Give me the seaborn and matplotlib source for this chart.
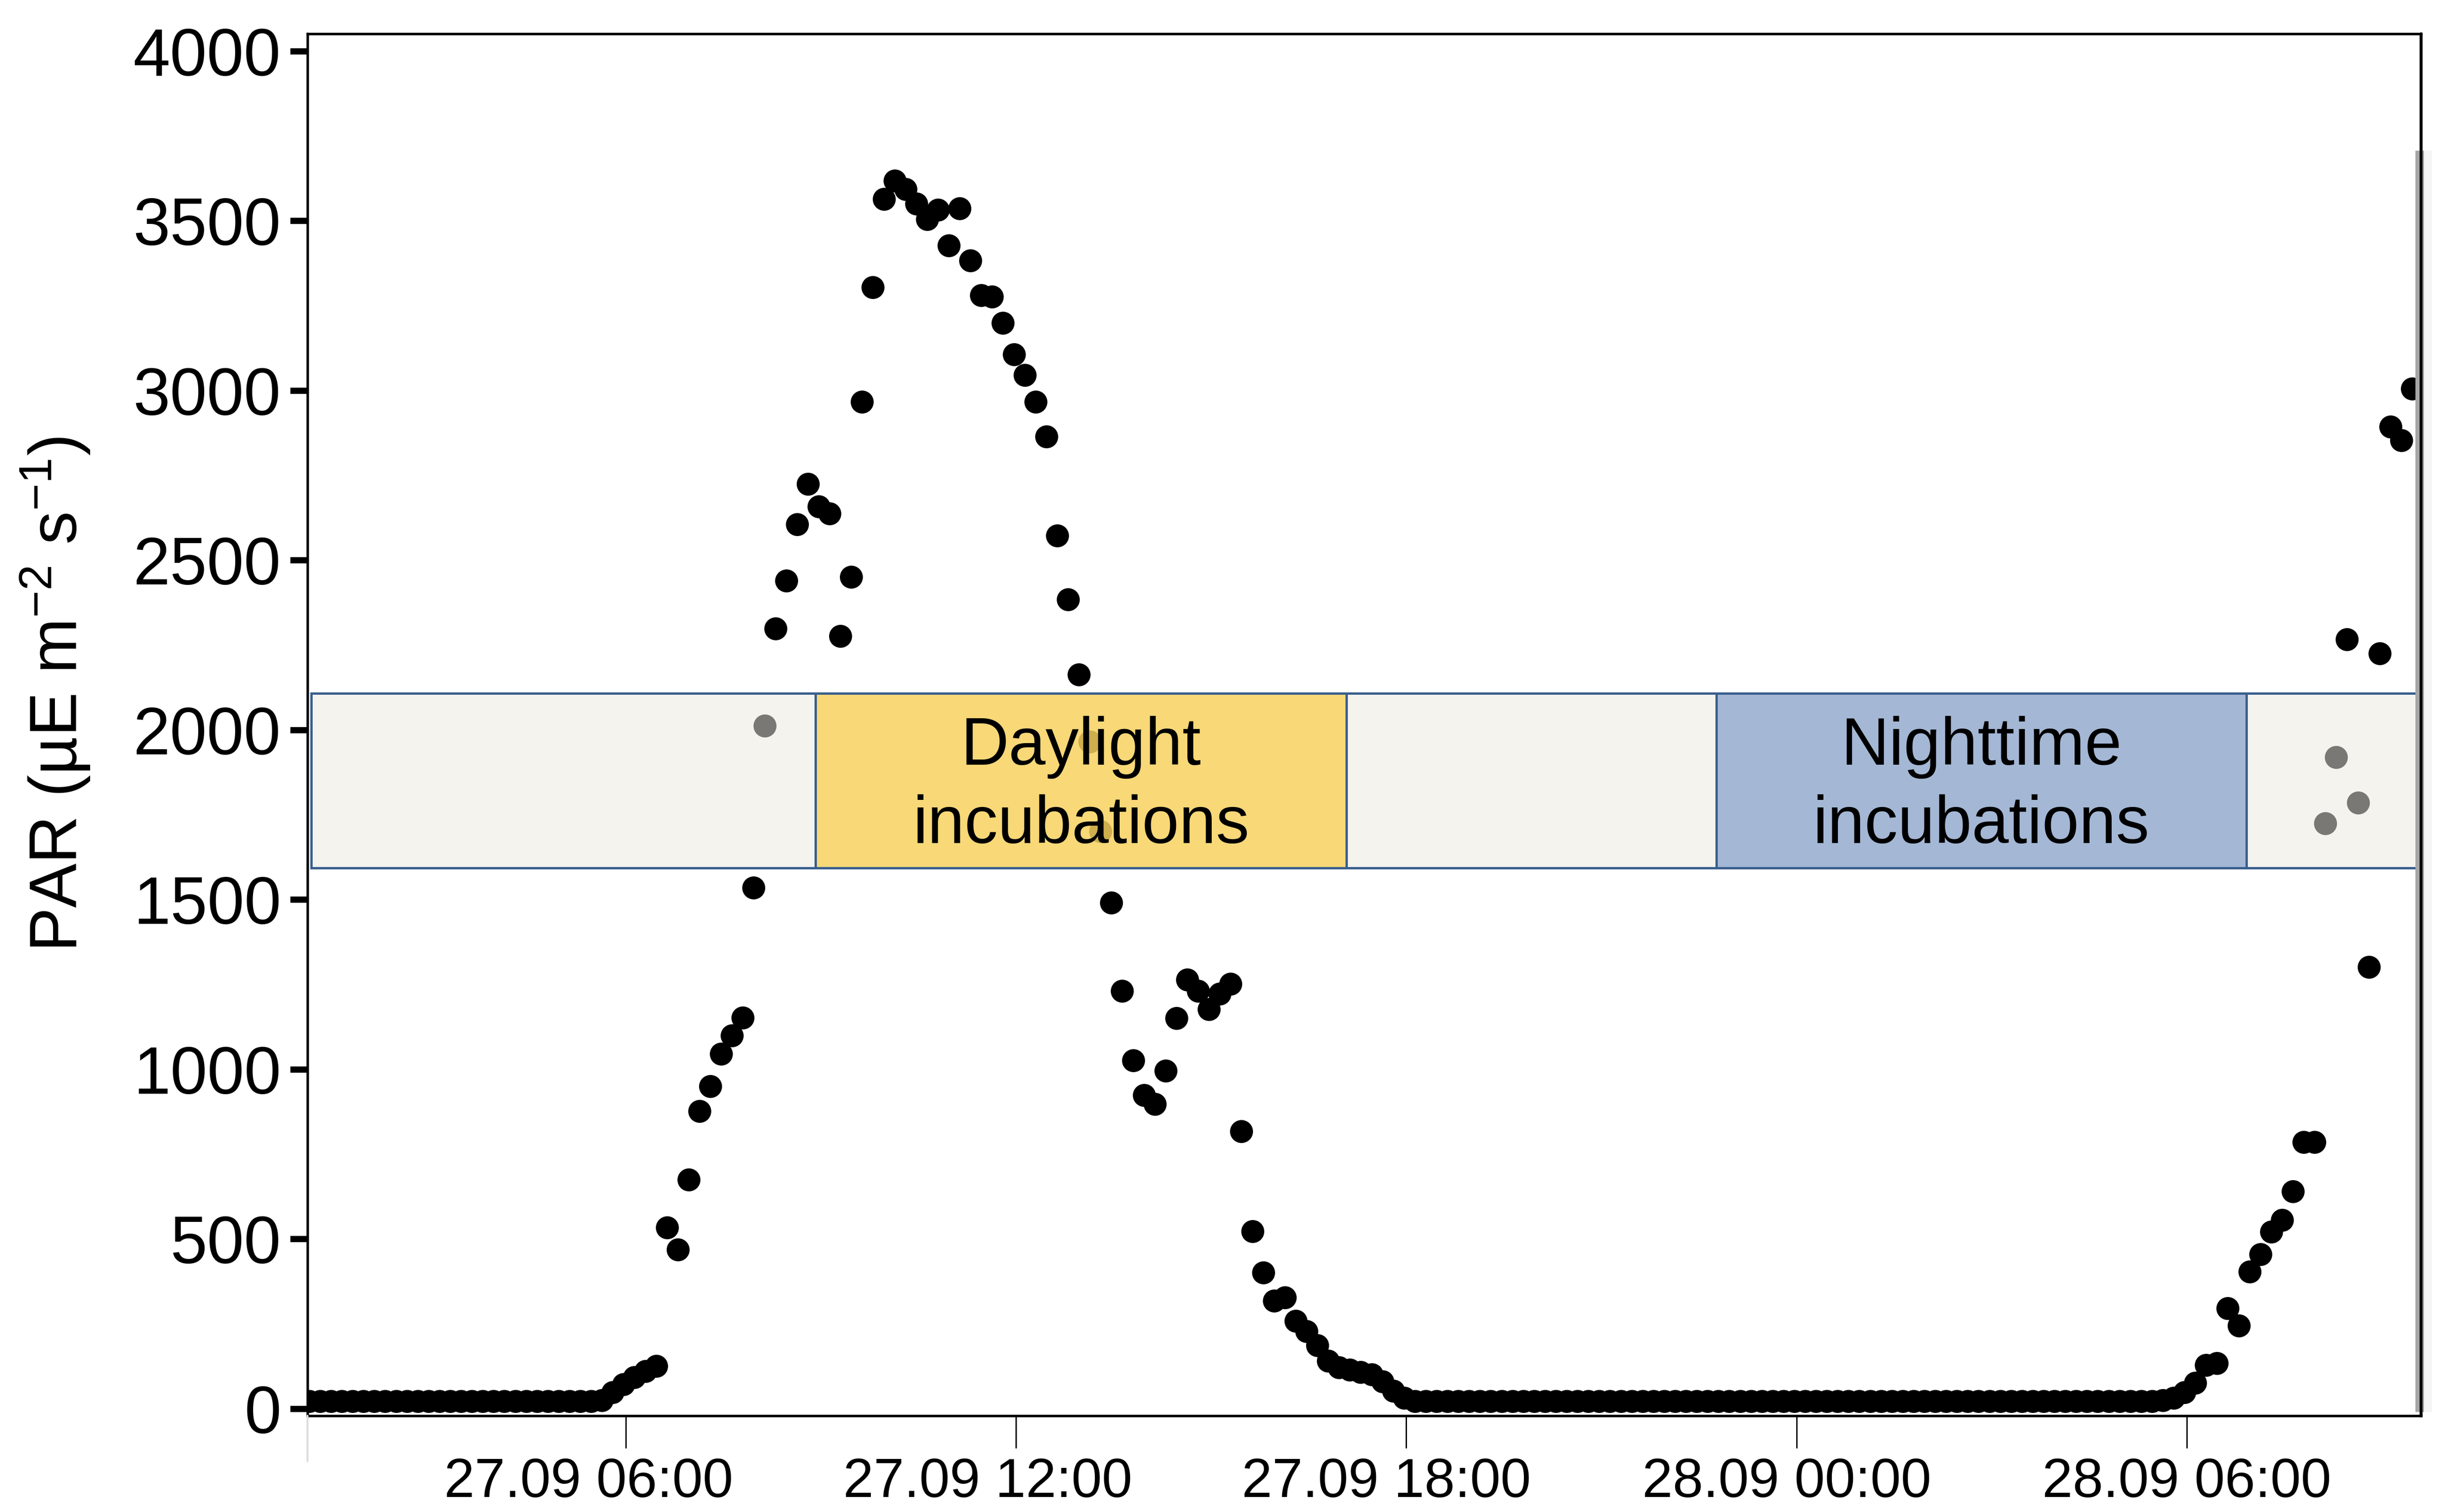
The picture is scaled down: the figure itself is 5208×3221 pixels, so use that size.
import matplotlib
matplotlib.use("Agg")
import matplotlib.pyplot as plt
import matplotlib.dates as mdates
from matplotlib.patches import Rectangle
from matplotlib.lines import Line2D
from matplotlib.transforms import ScaledTranslation
from matplotlib import font_manager
import numpy as np
import pandas as pd
import seaborn as sns

# ---------------- data ----------------
start_time = "2018-09-27 01:08"
interval = "10min"

night_1 = [22, 22, 22, 22, 22, 22, 22, 22, 22, 22,
           22, 22, 22, 22, 22, 22, 22, 22, 22, 22,
           22, 22, 22, 22, 22, 22, 22]

day_1 = [25, 48, 72, 92, 110, 125, 533, 469, 675, 877,
         950, 1046, 1099, 1152, 1535, 2012, 2299, 2439, 2605, 2725,
         2658, 2638, 2277, 2451, 2966, 3304, 3564, 3618, 3593, 3550,
         3505, 3532, 3427, 3537, 3383, 3281, 3277, 3199, 3107, 3046,
         2966, 2865, 2572, 2384, 2163, 1965, 1701, 1491, 1230, 1026,
         924, 897, 995, 1150, 1264, 1231, 1177, 1222, 1251, 817,
         522, 401, 318, 327, 258, 228, 186, 140, 122, 115,
         108, 100, 80, 52, 32]

night_2 = [22, 22, 22, 22, 22, 22, 22, 22, 22, 22,
           22, 22, 22, 22, 22, 22, 22, 22, 22, 22,
           22, 22, 22, 22, 22, 22, 22, 22, 22, 22,
           22, 22, 22, 22, 22, 22, 22, 22, 22, 22,
           22, 22, 22, 22, 22, 22, 22, 22, 22, 22,
           22, 22, 22, 22, 22, 22, 22, 22, 22, 22,
           22, 22, 22, 22, 22, 22, 22, 22, 22]

day_2 = [24, 32, 48, 75, 128, 134, 295, 245, 403, 455,
         521, 556, 640, 785, 785, 1725, 1920, 2267, 1785, 1301,
         2225, 2893, 2853, 3005]

par_values = night_1 + day_1 + night_2 + day_2

window_starts = ["2018-09-27 01:10", "2018-09-27 08:55", "2018-09-27 17:05",
                 "2018-09-27 22:46", "2018-09-28 06:55"]
window_ends = ["2018-09-27 08:55", "2018-09-27 17:05", "2018-09-27 22:46",
               "2018-09-28 06:55", "2018-09-28 09:35:40"]
window_labels = ["", "Daylight\nincubations", "", "Nighttime\nincubations", ""]
window_kinds = ["gap", "day", "gap", "night", "gap"]
band_low, band_high = 1593, 2108

x_tick_times = ["2018-09-27 06:00", "2018-09-27 12:00", "2018-09-27 18:00",
                "2018-09-28 00:00", "2018-09-28 06:00"]
y_tick_values = [0, 500, 1000, 1500, 2000, 2500, 3000, 3500, 4000]
y_label = r"PAR (µE m$^{-2}$ s$^{-1}$)"

# ---------------- style ----------------
sns.set_theme(style="ticks")
plt.rcParams["font.family"] = ["Liberation Sans", "DejaVu Sans"]
plt.rcParams["mathtext.fontset"] = "custom"
plt.rcParams["mathtext.rm"] = "Liberation Sans"
plt.rcParams["mathtext.it"] = "Liberation Sans:italic"
plt.rcParams["mathtext.bf"] = "Liberation Sans:bold"
plt.rcParams["mathtext.default"] = "regular"

names = {f.name for f in font_manager.fontManager.ttflist}
if "Liberation Sans Narrow" in names:
    xfont, xsize = "Liberation Sans Narrow", 34
else:
    xfont, xsize = "Liberation Sans", 28

face_colors = {
    "gap": (0.917, 0.910, 0.879, 0.52),
    "day": (0.967, 0.818, 0.363, 0.84),
    "night": (0.603, 0.691, 0.821, 0.90),
}
edge_color = "#3A5F8E"

fig = plt.figure(figsize=(5208 / 300, 3221 / 300), dpi=300)
fig.patch.set_facecolor("white")
ax = fig.add_axes([0.12577, 0.06377, 0.86444, 0.91400])
ax.set_facecolor("white")

times = pd.date_range(start=start_time, periods=len(par_values), freq=interval)
df = pd.DataFrame({"time": times, "par": par_values})

sns.scatterplot(data=df, x="time", y="par", color="black", s=138,
                linewidth=0, ax=ax, zorder=1, legend=False)

# incubation windows
for s, e, lab, kind in zip(window_starts, window_ends, window_labels, window_kinds):
    s_num = mdates.date2num(pd.Timestamp(s))
    e_num = mdates.date2num(pd.Timestamp(e))
    rect = Rectangle((s_num, band_low), e_num - s_num, band_high - band_low,
                     facecolor=face_colors[kind], edgecolor=edge_color,
                     linewidth=1.2, zorder=3)
    ax.add_patch(rect)
    if lab:
        t = ax.text((s_num + e_num) / 2, (band_low + band_high) / 2, lab,
                    ha="center", va="center", fontsize=34, linespacing=1.32,
                    color="black", zorder=5)
        t.set_transform(t.get_transform() + ScaledTranslation(0, -3.0 / 72, fig.dpi_scale_trans))

ax.set_xlim(pd.Timestamp("2018-09-27 01:06:21"), pd.Timestamp("2018-09-28 09:36:14"))
ax.set_ylim(-20.6, 4051.7)

ax.set_xticks([pd.Timestamp(t) for t in x_tick_times])
ax.xaxis.set_major_formatter(mdates.DateFormatter("%d.%m %H:%M"))
ax.set_yticks(y_tick_values)
ax.set_yticklabels([str(v) for v in y_tick_values])

ax.tick_params(axis="y", direction="out", length=9, width=3.2, pad=4.5,
               labelsize=34, color="black", labelcolor="black")
ax.tick_params(axis="x", direction="out", length=16.5, width=0.7, pad=4.6,
               labelsize=xsize, color="black", labelcolor="black")
for lbl in ax.get_xticklabels():
    lbl.set_fontfamily([xfont, "Liberation Sans", "DejaVu Sans"])
    lbl.set_fontsize(xsize)

x_offsets_pt = [-19.0, -14.4, -10.1, -5.0, 0.0]
for lbl, dx in zip(ax.get_xticklabels(), x_offsets_pt):
    lbl.set_transform(lbl.get_transform() + ScaledTranslation(dx / 72, 0, fig.dpi_scale_trans))

ax.set_xlabel("")
ax.set_ylabel(y_label, fontsize=34, color="black")
ax.yaxis.set_label_coords(-0.102, 0.522)

for side in ["left", "right", "top", "bottom"]:
    ax.spines[side].set_visible(True)
    ax.spines[side].set_color("black")
    ax.spines[side].set_linewidth(1.3)

# grey strip artefact along the right edge
ax.add_patch(Rectangle((0.99733, 0.00258), 1.0 - 0.99733, 0.91529 - 0.00258,
                       transform=ax.transAxes, facecolor="#A6A6A6", edgecolor="none",
                       clip_on=False, zorder=10))
ax.add_patch(Rectangle((1.0, 0.00258), 0.0013, 0.91529 - 0.00258,
                       transform=ax.transAxes, facecolor="#9A9A9A", edgecolor="none",
                       clip_on=False, zorder=10))
ax.add_patch(Rectangle((1.0013, 0.00258), 0.0038, 0.91529 - 0.00258,
                       transform=ax.transAxes, facecolor="#F5F5F5", edgecolor="none",
                       clip_on=False, zorder=10))
ax.add_line(Line2D([1.0, 1.0], [0.0, 1.0], transform=ax.transAxes, color="black",
                   linewidth=1.5, clip_on=False, zorder=11))
ax.add_line(Line2D([0.0, 0.0], [0.0, -0.033], transform=ax.transAxes, color="#DDDDDD",
                   linewidth=1.0, clip_on=False, zorder=11))

fig.savefig("out.png", dpi=300)
